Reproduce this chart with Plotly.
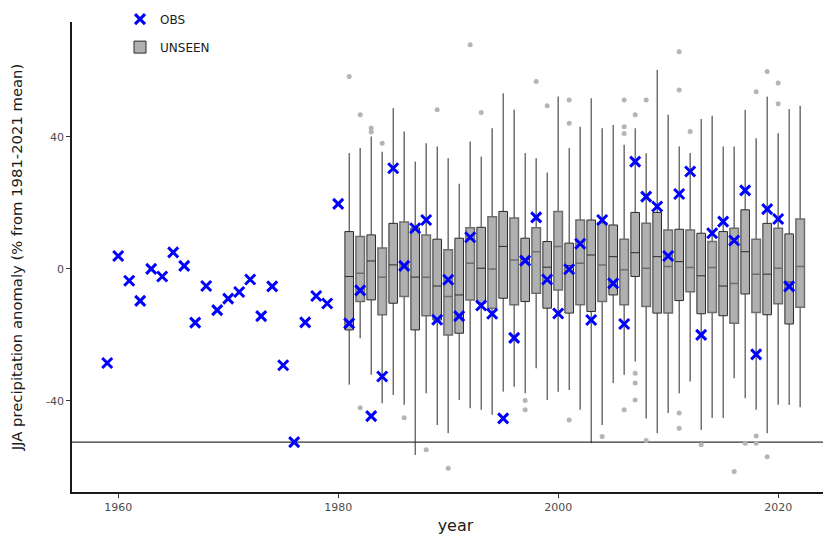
import plotly.graph_objects as go

# ---- OBS (observed JJA precipitation anomaly, %) ----
obs_years = list(range(1959, 2022))
obs_values = [
    -28.5, 3.9, -3.6, -9.7, 0.0, -2.3, 5.0, 0.9, -16.3, -5.2,
    -12.5, -9.0, -7.0, -3.2, -14.3, -5.3, -29.2, -52.5, -16.2, -8.2,
    -10.5, 19.7, -16.5, -6.5, -44.6, -32.6, 30.5, 0.9, 12.3, 14.8,
    -15.4, -3.3, -14.3, 9.6, -11.1, -13.6, -45.3, -20.9, 2.5, 15.6,
    -3.2, -13.5, -0.1, 7.6, -15.5, 14.8, -4.4, -16.7, 32.5, 21.9,
    18.9, 3.9, 22.7, 29.5, -20.0, 10.8, 14.3, 8.6, 23.8, -25.9,
    18.1, 15.1, -5.3,
]

# ---- UNSEEN ensemble boxplot statistics ----
box_years = list(range(1981, 2023))
box_low = [
    -35.1, -21.0, -32.1, -40.7, -38.2, -41.2, -56.4, -37.7, -47.3, -49.8,
    -39.7, -42.2, -42.7, -44.2, -37.2, -35.7, -37.7, -30.1, -39.7, -37.2,
    -36.7, -42.7, -52.8, -47.3, -34.6, -32.1, -28.1, -45.3, -49.8, -43.7,
    -37.7, -34.1, -48.8, -45.2, -45.2, -33.1, -39.2, -42.7, -49.8, -41.2,
    -41.2, -41.9,
]
box_q1 = [
    -18.5, -9.9, -9.4, -13.9, -10.4, -8.4, -18.5, -14.2, -15.5, -20.0,
    -19.5, -9.4, -10.4, -11.9, -8.9, -10.9, -9.9, -7.4, -11.9, -6.4,
    -13.4, -10.9, -12.9, -9.9, -7.9, -10.9, -2.3, -11.4, -13.4, -13.4,
    -9.6, -6.9, -13.6, -13.2, -14.2, -16.5, -7.6, -13.2, -13.9, -10.6,
    -16.7, -11.6,
]
box_median = [
    -2.3, -1.3, 2.4, -2.5, 1.2, 1.0, -2.5, -2.5, -5.2, -8.4,
    -7.9, 1.7, 0.2, 0.0, 6.8, 2.7, 2.9, 5.2, 0.5, 6.8,
    1.0, 1.7, 4.2, 1.2, 3.7, -0.3, 4.9, 0.2, 3.7, 0.7,
    2.2, 0.4, -2.1, 0.4, -5.2, -4.4, 5.2, -1.6, -1.6, 0.2,
    -4.0, 0.7,
]
box_q3 = [
    11.3, 9.8, 10.3, 6.3, 13.8, 14.2, 12.4, 10.3, 9.0, 5.8,
    9.3, 12.5, 12.6, 15.8, 17.4, 15.4, 9.3, 12.5, 8.3, 17.4,
    7.8, 14.8, 14.8, 14.0, 13.3, 9.0, 17.1, 13.8, 17.1, 11.8,
    12.0, 11.8, 10.8, 8.3, 11.3, 12.3, 17.9, 9.0, 13.8, 12.3,
    10.6, 15.1,
]
box_high = [
    35.1, 36.6, 40.1, 35.5, 48.7, 41.6, 32.5, 38.1, 37.1, 33.5,
    25.8, 38.6, 34.0, 42.6, 53.2, 48.2, 35.1, 33.5, 29.2, 52.2,
    36.6, 43.1, 51.7, 42.6, 43.6, 37.6, 42.6, 35.0, 60.3, 46.7,
    37.1, 35.1, 45.4, 46.4, 37.1, 37.1, 48.2, 39.6, 52.2, 41.1,
    48.4, 49.4,
]

# ---- UNSEEN outliers ----
out_years = [
    1981, 1982, 1982, 1983, 1983, 1984, 1986, 1988, 1989, 1990,
    1992, 1993, 1997, 1997, 1998, 1999, 2001, 2001, 2001, 2004,
    2006, 2006, 2006, 2006, 2007, 2007, 2007, 2007, 2008, 2008,
    2011, 2011, 2011, 2011, 2012, 2013, 2016, 2017, 2018, 2018,
    2018, 2019, 2019, 2020, 2020,
]
out_values = [
    58.3, 46.7, -42.1, 42.7, 41.5, 38.1, -45.1, -54.8, 48.2, -60.4,
    67.9, 47.4, -39.9, -42.7, 56.8, 49.4, 51.2, 44.1, -45.8, -50.8,
    51.2, 43.1, 41.0, -42.7, 46.7, -31.6, -34.6, -39.7, 51.2, -52.0,
    65.8, 54.2, -43.7, -48.3, 41.6, -53.3, -61.4, -52.8, 53.7, -50.6,
    -52.8, 59.8, -56.9, 56.3, 50.0,
]

x_ticks = [1960, 1980, 2000, 2020]
y_ticks = [-40, 0, 40]
y_ticktext = ["-40", "0", "40"]

FONT = "DejaVu Sans"

fig = go.Figure()


def add_boxes(idx, color, lw, show):
    fig.add_trace(go.Box(
        x=[box_years[i] for i in idx],
        q1=[box_q1[i] for i in idx],
        median=[box_median[i] for i in idx],
        q3=[box_q3[i] for i in idx],
        lowerfence=[box_low[i] for i in idx],
        upperfence=[box_high[i] for i in idx],
        name="UNSEEN",
        legendgroup="unseen",
        showlegend=show,
        fillcolor="#b0b0b0",
        line=dict(color=color, width=lw),
        width=0.78,
        whiskerwidth=0,
        boxpoints=False,
        hoverinfo="skip",
        legendrank=2,
    ))


odd_idx = [i for i, y in enumerate(box_years) if y % 2 == 1]
even_idx = [i for i, y in enumerate(box_years) if y % 2 == 0]
add_boxes(odd_idx, "#2b2b2b", 1.0, True)
add_boxes(even_idx, "#6e6e6e", 1.5, False)

fig.add_trace(go.Scatter(
    x=out_years, y=out_values, mode="markers",
    marker=dict(symbol="circle", size=5, color="#b5b5b5"),
    showlegend=False, hoverinfo="skip",
))

fig.add_trace(go.Scatter(
    x=obs_years, y=obs_values, mode="markers", name="OBS",
    legendgroup="obs",
    marker=dict(symbol="x-thin", size=10, color="#0000ff",
                line=dict(width=3, color="#0000ff")),
    legendrank=1,
))

fig.add_shape(type="line", xref="paper", x0=0, x1=1, yref="y",
              y0=min(obs_values), y1=min(obs_values),
              line=dict(color="#333333", width=1.2), layer="below")

fig.update_layout(
    width=831, height=538,
    margin=dict(l=64, r=0, t=14, b=54, autoexpand=False),
    paper_bgcolor="white", plot_bgcolor="white",
    font=dict(family=FONT, color="#1a1a1a"),
    showlegend=True,
    legend=dict(
        x=0.0626, y=1.037, xanchor="left", yanchor="top",
        bgcolor="rgba(0,0,0,0)", font=dict(size=12, color="#1a1a1a"),
        traceorder="grouped", tracegroupgap=9, itemwidth=30,
    ),
    xaxis=dict(
        range=[1955.8, 2025.53], tickvals=x_ticks,
        ticks="outside", ticklen=4, tickcolor="#333333",
        tickfont=dict(size=11, color="#4d4d4d"),
        showline=True, linecolor="#1a1a1a", linewidth=1.5,
        showgrid=False, zeroline=False, automargin=False,
        title=dict(text="year", font=dict(size=16, color="#1a1a1a"), standoff=7),
    ),
    yaxis=dict(
        range=[-67.6, 74.8], tickvals=y_ticks, ticktext=y_ticktext,
        ticks="outside", ticklen=4, tickcolor="#333333",
        tickfont=dict(size=11, color="#4d4d4d"),
        showline=True, linecolor="#1a1a1a", linewidth=1.5,
        showgrid=False, zeroline=False, automargin=False,
        title=dict(text="JJA precipitation anomaly (% from 1981-2021 mean)",
                   font=dict(size=14.8, color="#1a1a1a"), standoff=22),
    ),
)

fig.write_html("out.html")
